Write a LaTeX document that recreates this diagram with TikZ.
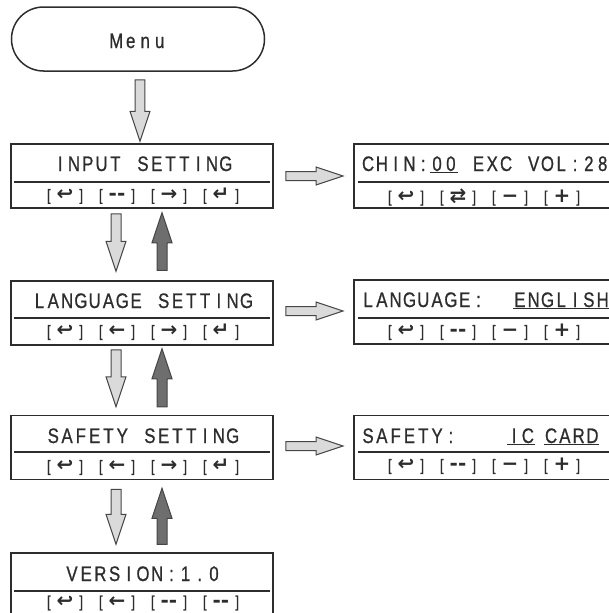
\documentclass[tikz,border=0pt]{standalone}
\usepackage{fontspec}
\setmainfont{Liberation Sans}
\newfontfamily\lcd[FakeStretch=0.8,FakeBold=0.8]{Liberation Sans}
\newfontfamily\sym{DejaVu Sans}
\usetikzlibrary{calc}
\definecolor{ink}{RGB}{45,45,45}
\definecolor{lightarr}{RGB}{218,218,218}
\definecolor{darkarr}{RGB}{110,110,110}
\definecolor{arrline}{RGB}{70,70,70}
\makeatletter
\newcommand\mtext[2]{\@tfor\mt@c:=#2\do{\makebox[#1]{\mt@c}}}
\makeatother
\newcommand\ttl{\lcd\fontsize{21}{24}\selectfont}
\newcommand\brk[1]{{\lcd\fontsize{16}{18}\selectfont#1}}
\newcommand\btn[1]{\makebox[36pt]{\brk{[}\hfill{\sym\bfseries\fontsize{20}{18}\selectfont#1}\hfill\brk{]}}}
\newcommand\btnrow[4]{\btn{#1}\hspace{16pt}\btn{#2}\hspace{16pt}\btn{#3}\hspace{16pt}\btn{#4}}
\newcommand\blockarrow[6]{%
 \coordinate (hb) at ($(#3)!#4!(#2)$);
 \filldraw[#1] ($(#2)!#5!90:(#3)$) -- ($(hb)!#5!90:(#3)$) -- ($(hb)!#6!90:(#3)$) -- (#3) -- ($(hb)!#6!-90:(#3)$) -- ($(hb)!#5!-90:(#3)$) -- ($(#2)!#5!-90:(#3)$) -- cycle;}
\tikzset{
 box/.style={draw=ink, line width=1.5pt, minimum height=64pt, inner sep=0pt},
 divider/.style={draw=ink, line width=1.2pt},
 txt/.style={anchor=base, inner sep=0pt, text=ink},
 ltarrow/.style={fill=lightarr, draw=arrline, line width=1pt},
 dkarrow/.style={fill=darkarr, draw=arrline, line width=1pt},
}
\begin{document}
\begin{tikzpicture}[x=1pt,y=-1pt]
\useasboundingbox (0,0) rectangle (608,613);
% menu
\node[box, minimum width=253pt, rounded corners=32pt] (menu) at (138,39) {};
\node[txt] (menut) at (138,48) {\ttl\mtext{14.5pt}{Menu}};
% left boxes
\node[box, minimum width=262pt] (in) at (142,176) {};
\node[box, minimum width=262pt] (lang) at (142,313) {};
\node[box, minimum width=262pt] (safe) at (142,447.5) {};
\node[box, minimum width=262pt] (ver) at (142,585) {};
\foreach \b/\d in {in/6,lang/5,safe/4.5,ver/6}{
  \draw[divider] ($(\b.west)+(4,\d)$) -- ($(\b.east)+(-4,\d)$);
}
\node[txt] (int) at (143,171) {\ttl\mtext{13.8pt}{INPUT~SETTING}};
\node[txt] (langt) at (143,308) {\ttl\mtext{13.8pt}{LANGUAGE~SETTING}};
\node[txt] (safet) at (143,443) {\ttl\mtext{13.8pt}{SAFETY~SETTING}};
\node[txt] (vert) at (143,581) {\ttl\mtext{14.2pt}{VERSION:1.0}};
\node[txt, anchor=center] (inb) at (143,196) {\btnrow{↩}{-{}-}{→}{↵}};
\node[txt, anchor=center] (langb) at (143,332) {\btnrow{↩}{←}{→}{↵}};
\node[txt, anchor=center] (safeb) at (143,467) {\btnrow{↩}{←}{→}{↵}};
\node[txt, anchor=center] (verb) at (143,603) {\btnrow{↩}{←}{-{}-}{-{}-}};
% right boxes
\node[box, minimum width=300pt, anchor=west] (inr) at (353,176) {};
\node[box, minimum width=300pt, anchor=west] (langr) at (353,312) {};
\node[box, minimum width=300pt, anchor=west] (safer) at (353,447.5) {};
\draw[divider] ($(inr.west)+(5,6)$) -- ($(inr.east)+(-4,6)$);
\draw[divider] ($(langr.west)+(5,6)$) -- ($(langr.east)+(-4,6)$);
\draw[divider] ($(safer.west)+(5,4.5)$) -- ($(safer.east)+(-4,4.5)$);
\node[txt, anchor=base west] (inrt) at (361,171) {\ttl\mtext{13.8pt}{CHIN:}\underline{\mtext{13.8pt}{00}}\mtext{13.8pt}{~EXC~VOL:28}};
\node[txt, anchor=base west] (langrt) at (361,307) {\ttl\mtext{13.8pt}{LANGUAGE:~~}\underline{\mtext{13.8pt}{ENGLISH}}};
\node[txt, anchor=base west] (safert) at (361,443) {\ttl\mtext{13.8pt}{SAFETY:}\hspace{49.4pt}\underline{\mtext{13.8pt}{IC}}\hspace{9.4pt}\underline{\mtext{13.8pt}{CARD}}};
\node[txt, anchor=center] (inrb) at (484,197) {\btnrow{↩}{⇄}{−}{+}};
\node[txt, anchor=center] (langrb) at (484,332) {\btnrow{↩}{-{}-}{−}{+}};
\node[txt, anchor=center] (saferb) at (484,466) {\btnrow{↩}{-{}-}{−}{+}};
% connectors
\coordinate (m0) at ($(menu.south)+(2,8)$);
\coordinate (m1) at ($(in.north)+(-2,-2)$);
\blockarrow{ltarrow}{m0}{m1}{30pt}{4.8pt}{10pt}
\coordinate (d1s) at ($(in.south)+(-26,5)$);
\coordinate (d1t) at ($(lang.north)+(-26,-9)$);
\coordinate (u1s) at ($(lang.north)+(20,-10)$);
\coordinate (u1t) at ($(in.south)+(20,4)$);
\coordinate (d2s) at ($(lang.south)+(-26,4)$);
\coordinate (d2t) at ($(safe.north)+(-26,-8)$);
\coordinate (u2s) at ($(safe.north)+(20,-8)$);
\coordinate (u2t) at ($(lang.south)+(20,3)$);
\coordinate (d3s) at ($(safe.south)+(-26,9)$);
\coordinate (d3t) at ($(ver.north)+(-26,-8)$);
\coordinate (u3s) at ($(ver.north)+(20,-8)$);
\coordinate (u3t) at ($(safe.south)+(20,8)$);
\blockarrow{ltarrow}{d1s}{d1t}{30pt}{5pt}{10pt}
\blockarrow{dkarrow}{u1s}{u1t}{30pt}{5pt}{10pt}
\blockarrow{ltarrow}{d2s}{d2t}{30pt}{5pt}{10pt}
\blockarrow{dkarrow}{u2s}{u2t}{30pt}{5pt}{10pt}
\blockarrow{ltarrow}{d3s}{d3t}{30pt}{5pt}{10pt}
\blockarrow{dkarrow}{u3s}{u3t}{30pt}{5pt}{10pt}
\coordinate (r1s) at ($(in.east)+(12,0)$);
\coordinate (r1t) at ($(inr.west)+(-10,0)$);
\coordinate (r2s) at ($(lang.east)+(12,-2)$);
\coordinate (r2t) at ($(langr.west)+(-10,-1)$);
\coordinate (r3s) at ($(safe.east)+(12,-1.5)$);
\coordinate (r3t) at ($(safer.west)+(-10,-1.5)$);
\blockarrow{ltarrow}{r1s}{r1t}{27pt}{4.5pt}{9pt}
\blockarrow{ltarrow}{r2s}{r2t}{27pt}{4.5pt}{9pt}
\blockarrow{ltarrow}{r3s}{r3t}{27pt}{4.5pt}{9pt}
\end{tikzpicture}
\end{document}
